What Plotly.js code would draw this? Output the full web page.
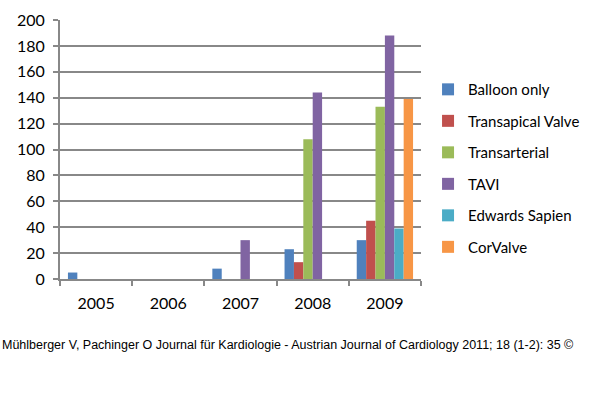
<!DOCTYPE html>
<html>
<head>
<meta charset="utf-8">
<script src="https://cdn.plot.ly/plotly-3.0.1.min.js"></script>
<style>html,body{margin:0;padding:0;background:#fff}#chart{width:600px;height:397px}</style>
</head>
<body>
<div id="chart"></div>
<script>
const years = ["2005", "2006", "2007", "2008", "2009"];
const seriesNames = ["Balloon only", "Transapical Valve", "Transarterial", "TAVI", "Edwards Sapien", "CorValve"];
const balloonOnly = [5, 0, 8, 23, 30];
const transapical = [0, 0, 0, 13, 45];
const transarterial = [0, 0, 0, 108, 133];
const tavi = [0, 0, 30, 144, 188];
const edwards = [0, 0, 0, 0, 39];
const corvalve = [0, 0, 0, 0, 139];
const yTicks = [0, 20, 40, 60, 80, 100, 120, 140, 160, 180, 200];
const colors = ["#4F81BD", "#C0504D", "#9BBB59", "#8064A2", "#4BACC6", "#F79646"];
const values = [balloonOnly, transapical, transarterial, tavi, edwards, corvalve];
const footer = "Mühlberger V, Pachinger O Journal für Kardiologie - Austrian Journal of Cardiology 2011; 18 (1-2): 35 ©";

const traces = values.map((v, i) => ({
  type: "bar",
  x: years,
  y: v,
  name: seriesNames[i],
  legendgroup: "g" + i,
  marker: {color: colors[i], line: {width: 0}},
  hoverinfo: "none"
}));

const layout = {
  width: 600, height: 397,
  margin: {l: 60, r: 179, t: 20, b: 118},
  paper_bgcolor: "#fff", plot_bgcolor: "#fff",
  barmode: "group", bargap: 0.22, bargroupgap: 0,
  font: {family: "Lato, 'Open Sans', sans-serif", size: 15, color: "#000"},
  xaxis: {
    type: "category",
    showline: true, linecolor: "#888", linewidth: 2,
    ticks: "outside", tickson: "boundaries", ticklen: 5, tickcolor: "#888", tickwidth: 2,
    showgrid: false, zeroline: false,
    ticklabelstandoff: 9,
    tickfont: {size: 16}
  },
  yaxis: {
    range: [0, 200], tickvals: yTicks,
    showline: true, linecolor: "#888", linewidth: 2,
    ticks: "outside", ticklen: 5, tickcolor: "#888", tickwidth: 2,
    showgrid: true, gridcolor: "#888", gridwidth: 2,
    zeroline: false, ticklabelstandoff: 5, tickfont: {size: 16}
  },
  legend: {
    x: 1.0195, xanchor: "left", y: 0.795, yanchor: "top",
    font: {size: 15}, tracegroupgap: 9, bgcolor: "rgba(0,0,0,0)"
  },
  annotations: [{
    xref: "paper", yref: "paper", x: -0.166, y: -0.22, xanchor: "left", yanchor: "top",
    text: footer, showarrow: false,
    font: {family: "'Liberation Sans Narrow', 'Liberation Sans', Arial, sans-serif", size: 12.5, color: "#000"}
  }]
};

Plotly.newPlot("chart", traces, layout, {staticPlot: true});
</script>
</body>
</html>
